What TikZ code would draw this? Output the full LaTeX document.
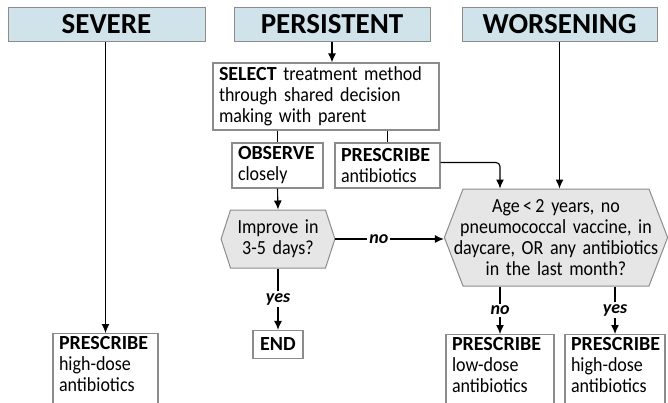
\documentclass[tikz,border=0pt]{standalone}
\usepackage{fontspec}
\setmainfont{Carlito}[FakeStretch=0.9, BoldFeatures={FakeStretch=1}, BoldItalicFeatures={FakeStretch=1}]
\newfontfamily\headfont{Carlito}
\usepackage{tikz}
\usetikzlibrary{shapes.symbols}
\usetikzlibrary{arrows.meta}
\definecolor{headblue}{HTML}{D0E3EA}
\definecolor{hexgray}{HTML}{E6E6E6}
\definecolor{edgegray}{HTML}{8C8C8C}
\newcommand\bodyfont{\fontsize{20}{21}\selectfont}

\begin{document}
\begin{tikzpicture}[x=1pt, y=-1pt,
    header/.style = {draw=edgegray, fill=headblue, line width=1pt, minimum height=34pt, inner sep=0pt, font=\headfont\fontsize{29}{30}\selectfont\bfseries},
    box/.style = {draw=edgegray, line width=1.3pt, inner xsep=6pt, inner ysep=3pt, align=left, font=\bodyfont},
    hex/.style = {signal, signal to=east and west, draw=edgegray, fill=hexgray, line width=1pt, align=center, font=\bodyfont},
    arr/.style = {-{Latex[length=9pt,width=8pt]}, line width=1.1pt},
    tag/.style = {fill=white, inner sep=2pt, font=\fontsize{18}{19}\selectfont\bfseries\itshape}]
    \useasboundingbox (0,0) rectangle (668,402);
    \clip (0,0) rectangle (668,402);

    %Headers
    \node at (106.5,24) [header, minimum width=197pt] (severe) {SEVERE};
    \node at (332,24) [header, minimum width=196pt] (persist) {PERSISTENT};
    \node at (559.5,24) [header, minimum width=195pt] (worse) {WORSENING};

    %Persistent branch
    \node at (326,96.5) [box, text width=214pt, minimum height=67pt] (select) {\textbf{SELECT} treatment method\\through shared decision\\making with parent};
    \node at (277.5,165.5) [box, text width=79pt, minimum height=45pt] (observe) {\textbf{OBSERVE}\\closely};
    \node at (387.5,165.5) [box, text width=93pt, minimum height=45pt] (prab) {\textbf{PRESCRIBE}\\antibiotics};
    \node at (278,239) [hex, text width=95pt, inner xsep=0pt, minimum height=58pt, signal pointer angle=144] (improve) {Improve in\\3-5 days?};
    \node at (278,344.5) [box, minimum width=50pt, minimum height=28pt, font=\bodyfont\bfseries] (endbox) {END};

    %Decision
    \node at (556,237.5) [hex, text width=216pt, inner xsep=-15pt, minimum height=97pt, signal pointer angle=138] (age) {Age\,<\,2 years, no\\pneumococcal vaccine, in\\daycare, OR any antibiotics\\in the last month?};

    %Prescriptions
    \node at (105.5,333) [box, anchor=north, text width=93pt, text depth=62pt] (sevrx) {\textbf{PRESCRIBE}\\high-dose\\antibiotics};
    \node at (500,334) [box, anchor=north, text width=96pt, text depth=62pt] (lowrx) {\textbf{PRESCRIBE}\\low-dose\\antibiotics};
    \node at (615,334) [box, anchor=north, text width=88pt, text depth=62pt] (highrx) {\textbf{PRESCRIBE}\\high-dose\\antibiotics};

    %Severe
    \draw[arr] (severe.south -| sevrx.north) -- (sevrx.north);

    %Persistent
    \draw[arr] (persist.south) -- (persist.south |- select.north);
    \draw[line width=1.1pt] (observe.north |- select.south) -- (observe.north);
    \draw[line width=1.1pt] (prab.north |- select.south) -- (prab.north);
    \draw[arr] (observe.south) -- (improve.north);
    \draw[arr] (improve.south) -- node[tag] {yes} (endbox.north);
    \draw[arr] (improve.east) -- node[tag, pos=0.4] {no} (improve.east -| age.west);
    \draw[arr, rounded corners=4pt] ([yshift=3pt]prab.east) -| (lowrx.north |- age.north);

    %Worsening
    \draw[arr] (worse.south) -- (worse.south |- age.north);

    %Answers
    \draw[arr] (lowrx.north |- age.south) -- node[tag] {no} (lowrx.north);
    \draw[arr] (highrx.north |- age.south) -- node[tag] {yes} (highrx.north);
\end{tikzpicture}
\end{document}
